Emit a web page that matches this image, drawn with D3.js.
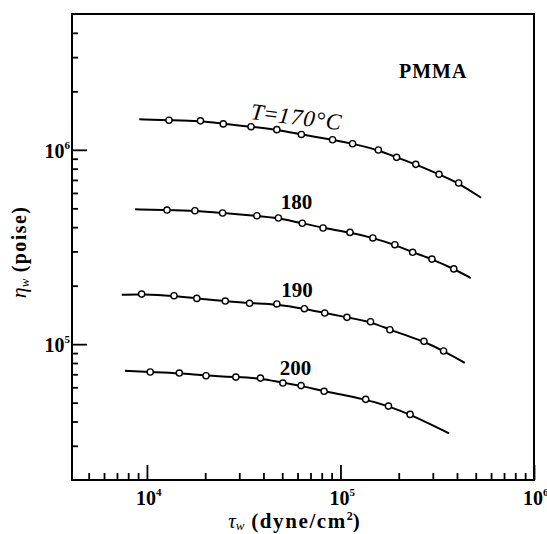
<!DOCTYPE html>
<html>
<head>
<meta charset="utf-8">
<script src="https://cdn.jsdelivr.net/npm/d3@7"></script>
<style>
  html, body { margin: 0; padding: 0; background: #fff; }
  svg { display: block; }
  text { font-family: "Liberation Serif", "Times New Roman", serif; fill: #000; }
</style>
</head>
<body>
<svg id="chart" width="547" height="534"></svg>
<script>
// Melt viscosity of PMMA vs. wall shear stress at four temperatures (log-log)
const temperatures = [170, 180, 190, 200];

// wall shear stress τw (dyne/cm²) and apparent viscosity ηw (poise)
const tau170 = [1.30e4, 1.89e4, 2.48e4, 3.45e4, 4.69e4, 6.28e4, 9.10e4, 1.155e5, 1.57e5, 1.95e5, 2.45e5, 3.23e5, 4.08e5];
const eta170 = [1.42e6, 1.41e6, 1.36e6, 1.315e6, 1.27e6, 1.20e6, 1.127e6, 1.075e6, 9.98e5, 9.15e5, 8.42e5, 7.48e5, 6.75e5];

const tau180 = [1.27e4, 1.77e4, 2.46e4, 3.70e4, 4.78e4, 6.35e4, 8.13e4, 1.12e5, 1.47e5, 1.91e5, 2.36e5, 2.97e5, 3.85e5];
const eta180 = [4.90e5, 4.86e5, 4.73e5, 4.58e5, 4.46e5, 4.19e5, 3.96e5, 3.76e5, 3.52e5, 3.25e5, 2.97e5, 2.74e5, 2.44e5];

const tau190 = [9.39e3, 1.38e4, 1.81e4, 2.54e4, 3.39e4, 4.69e4, 6.51e4, 8.29e4, 1.08e5, 1.43e5, 1.80e5, 2.70e5, 3.41e5];
const eta190 = [1.81e5, 1.775e5, 1.72e5, 1.667e5, 1.623e5, 1.61e5, 1.522e5, 1.446e5, 1.374e5, 1.304e5, 1.186e5, 1.034e5, 9.22e4];

const tau200 = [1.04e4, 1.47e4, 2.02e4, 2.88e4, 3.86e4, 5.04e4, 6.26e4, 8.23e4, 1.35e5, 1.77e5, 2.29e5];
const eta200 = [7.19e4, 7.10e4, 6.88e4, 6.77e4, 6.69e4, 6.31e4, 6.12e4, 5.72e4, 5.20e4, 4.80e4, 4.35e4];

// first and last point of each smooth fitted curve
const fitTau170 = [9.13e3, 5.33e5], fitEta170 = [1.436e6, 5.67e5];
const fitTau180 = [8.68e3, 4.71e5], fitEta180 = [4.94e5, 2.19e5];
const fitTau190 = [7.41e3, 4.39e5], fitEta190 = [1.796e5, 8.02e4];
const fitTau200 = [7.70e3, 3.64e5], fitEta200 = [7.30e4, 3.475e4];

// axis ticks
const xMajorTicks = [1e4, 1e5, 1e6];
const xTickExponents = ["4", "5", "6"];
const xMinorTicks = [5e3, 6e3, 7e3, 8e3, 9e3,
  2e4, 3e4, 4e4, 5e4, 6e4, 7e4, 8e4, 9e4,
  2e5, 3e5, 4e5, 5e5, 6e5, 7e5, 8e5, 9e5];
const yMajorTicks = [1e5, 1e6];
const yTickExponents = ["5", "6"];
const yMinorTicks = [3e4, 4e4, 5e4, 6e4, 7e4, 8e4, 9e4,
  2e5, 3e5, 4e5, 5e5, 6e5, 7e5, 8e5, 9e5,
  2e6, 3e6, 4e6];

const series = [
  { t: temperatures[0], tau: tau170, eta: eta170, fitTau: fitTau170, fitEta: fitEta170 },
  { t: temperatures[1], tau: tau180, eta: eta180, fitTau: fitTau180, fitEta: fitEta180 },
  { t: temperatures[2], tau: tau190, eta: eta190, fitTau: fitTau190, fitEta: fitEta190 },
  { t: temperatures[3], tau: tau200, eta: eta200, fitTau: fitTau200, fitEta: fitEta200 }
];

const svg = d3.select("#chart");
const plotLeft = 72, plotRight = 534, plotTop = 14, plotBottom = 480;

const xScale = d3.scaleLog().domain([4100, 1e6]).range([plotLeft, plotRight]);
const yScale = d3.scaleLog().domain([2e4, 5e6]).range([plotBottom, plotTop]);

// ---- frame ----
svg.append("rect")
  .attr("x", plotLeft).attr("y", plotTop)
  .attr("width", plotRight - plotLeft).attr("height", plotBottom - plotTop)
  .attr("fill", "none").attr("stroke", "#000").attr("stroke-width", 2);

// ---- inward ticks along the bottom and left edges ----
const tickG = svg.append("g");
tickG.append("g").attr("transform", `translate(0,${plotBottom})`)
  .call(d3.axisBottom(xScale).tickValues(xMinorTicks).tickSizeInner(-7).tickSizeOuter(0).tickFormat(() => ""));
tickG.append("g").attr("transform", `translate(0,${plotBottom})`)
  .call(d3.axisBottom(xScale).tickValues(xMajorTicks).tickSizeInner(-15).tickSizeOuter(0).tickFormat(() => ""));
tickG.append("g").attr("transform", `translate(${plotLeft},0)`)
  .call(d3.axisLeft(yScale).tickValues(yMinorTicks).tickSizeInner(-6).tickSizeOuter(0).tickFormat(() => ""));
tickG.append("g").attr("transform", `translate(${plotLeft},0)`)
  .call(d3.axisLeft(yScale).tickValues(yMajorTicks).tickSizeInner(-15).tickSizeOuter(0).tickFormat(() => ""));
tickG.selectAll(".domain").remove();
tickG.selectAll(".tick line").attr("stroke", "#000").attr("stroke-width", 1.8);

// ---- tick labels: 10 with superscript exponent ----
xMajorTicks.forEach((v, i) => {
  const t = svg.append("text")
    .attr("y", plotBottom + 25)
    .attr("font-size", 20).attr("font-weight", "bold");
  t.append("tspan").text("10");
  t.append("tspan").attr("font-size", 11).attr("dy", -9).text(xTickExponents[i]);
  const w = t.node().getSubStringLength(0, 2);
  t.attr("x", xScale(v) - w / 2 - 1);
});
yMajorTicks.forEach((v, i) => {
  const t = svg.append("text")
    .attr("x", plotLeft - 2).attr("y", yScale(v) + 8)
    .attr("text-anchor", "end")
    .attr("font-size", 20).attr("font-weight", "bold");
  t.append("tspan").text("10");
  t.append("tspan").attr("font-size", 11).attr("dy", -9).text(yTickExponents[i]);
});

// ---- curves and measured points ----
const line = d3.line()
  .x(d => xScale(d[0])).y(d => yScale(d[1]))
  .curve(d3.curveBasis);

series.forEach(s => {
  const pts = s.tau.map((v, i) => [v, s.eta[i]]);
  const path = [[s.fitTau[0], s.fitEta[0]], ...pts, [s.fitTau[1], s.fitEta[1]]];
  svg.append("path")
    .attr("d", line(path))
    .attr("fill", "none").attr("stroke", "#000").attr("stroke-width", 2);
  svg.append("g").selectAll("circle").data(pts).join("circle")
    .attr("cx", d => xScale(d[0])).attr("cy", d => yScale(d[1]))
    .attr("r", 3.1)
    .attr("fill", "#fff").attr("stroke", "#000").attr("stroke-width", 1.4);
});

// ---- curve labels ----
const t170 = svg.append("text")
  .attr("transform", "translate(250,119) rotate(7)")
  .attr("font-size", 23).attr("font-style", "italic").attr("letter-spacing", 1);
t170.append("tspan").text("T");
t170.append("tspan").attr("font-style", "normal").text("=");
t170.append("tspan").text(temperatures[0] + "°C");

[[temperatures[1], 296.5, 209], [temperatures[2], 297, 296.5], [temperatures[3], 295.5, 375]]
  .forEach(([t, lx, ly]) => {
    svg.append("text")
      .attr("x", lx).attr("y", ly)
      .attr("text-anchor", "middle")
      .attr("font-size", 21).attr("font-weight", "bold")
      .text(t);
  });

svg.append("text")
  .attr("x", 399).attr("y", 78)
  .attr("font-size", 20).attr("font-weight", "bold").attr("letter-spacing", 1)
  .text("PMMA");

// ---- axis titles ----
const xt = svg.append("text")
  .attr("x", 294).attr("y", 528)
  .attr("text-anchor", "middle")
  .attr("font-size", 21);
xt.append("tspan").attr("font-style", "italic").text("τ");
xt.append("tspan").attr("font-style", "italic").attr("font-size", 13).attr("dy", 2).text("w");
xt.append("tspan").attr("dy", -2).attr("font-weight", "bold").attr("letter-spacing", 1.6).text(" (dyne/cm");
xt.append("tspan").attr("font-weight", "bold").attr("font-size", 12).attr("dy", -8).text("2");
xt.append("tspan").attr("font-weight", "bold").attr("dy", 8).text(")");

const yt = svg.append("text")
  .attr("transform", "translate(26,252) rotate(-90)")
  .attr("text-anchor", "middle")
  .attr("font-size", 20);
yt.append("tspan").attr("font-style", "italic").attr("font-size", 22).text("η");
yt.append("tspan").attr("font-style", "italic").attr("font-size", 13).attr("dy", 3).text("w");
yt.append("tspan").attr("dy", -3).attr("font-weight", "bold").attr("letter-spacing", 1.4).text("  (poise)");
</script>
</body>
</html>
